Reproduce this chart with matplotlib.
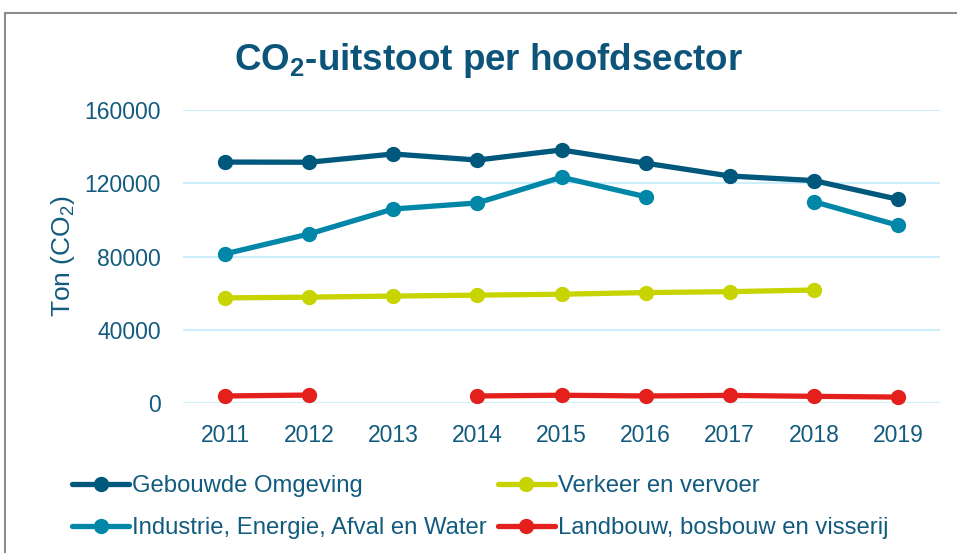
import numpy as np
import matplotlib.pyplot as plt
from matplotlib.patches import Rectangle

plt.rcParams['font.family'] = ['Liberation Sans', 'DejaVu Sans']
plt.rcParams['mathtext.fontset'] = 'custom'
plt.rcParams['mathtext.rm'] = 'Liberation Sans'
plt.rcParams['mathtext.bf'] = 'Liberation Sans:bold'

years = ['2011', '2012', '2013', '2014', '2015', '2016', '2017', '2018', '2019']
gebouwde = [131600, 131500, 136000, 132700, 138200, 131000, 124000, 121500, 111300]
industrie = [81500, 92400, 106000, 109300, 123300, 112700, np.nan, 110000, 97100]
verkeer = [57500, 57900, 58500, 59000, 59500, 60400, 60900, 61800, np.nan]
landbouw = [4000, 4500, np.nan, 4000, 4400, 4000, 4300, 3800, 3400]

series = [
    ('Gebouwde Omgeving', gebouwde, '#00587c'),
    ('Industrie, Energie, Afval en Water', industrie, '#0087a8'),
    ('Verkeer en vervoer', verkeer, '#c8d400'),
    ('Landbouw, bosbouw en visserij', landbouw, '#e3201b'),
]

text_col = '#125b7e'

fig = plt.figure(figsize=(9.57, 5.53), dpi=100)
# grey frame around the chart area
fig.add_artist(Rectangle((5 / 957, -0.1), 1.2, 1 - 13 / 553 + 0.1,
                         transform=fig.transFigure, fill=False,
                         edgecolor='#8c8c8c', linewidth=1.5))

ax = fig.add_axes([183 / 957, 1 - 403.3 / 553, 757 / 957, 293.3 / 553])
x = np.arange(len(years))
handles = []
for name, vals, col in series:
    h, = ax.plot(x, vals, color=col, lw=3.8, marker='o', ms=10,
                 solid_capstyle='round', clip_on=False, label=name, zorder=3)
    handles.append(h)

ax.set_xlim(-0.5, len(years) - 0.5)
ax.set_ylim(0, 160000)
ax.set_yticks([0, 40000, 80000, 120000, 160000])
ax.set_xticks(x)
ax.set_xticklabels(years)
ax.grid(axis='y', color='#cdeefb', lw=1.5, zorder=0)
ax.set_axisbelow(True)
for s in ax.spines.values():
    s.set_visible(False)
ax.tick_params(axis='both', length=0, labelsize=16.5, colors=text_col)
ax.tick_params(axis='y', pad=16)
ax.tick_params(axis='x', pad=15)
ax.set_ylabel('Ton (CO$_2$)', fontsize=19, color=text_col, labelpad=5)

fig.text(489 / 957, 1 - 60 / 553, 'CO$_\\mathbf{2}$-uitstoot per hoofdsector',
         ha='center', va='center', fontsize=26.5, fontweight='bold',
         color='#0c5479')

leg = fig.legend(handles, [h.get_label() for h in handles], ncol=2,
                 loc='upper left', bbox_to_anchor=(72 / 957, 1 - 475 / 553),
                 frameon=False, fontsize=17.2, handlelength=2.4,
                 handletextpad=0.12, columnspacing=0.45, labelspacing=0.85,
                 borderaxespad=0, borderpad=0)
for t in leg.get_texts():
    t.set_color(text_col)

fig.savefig('out.png', dpi=100)
